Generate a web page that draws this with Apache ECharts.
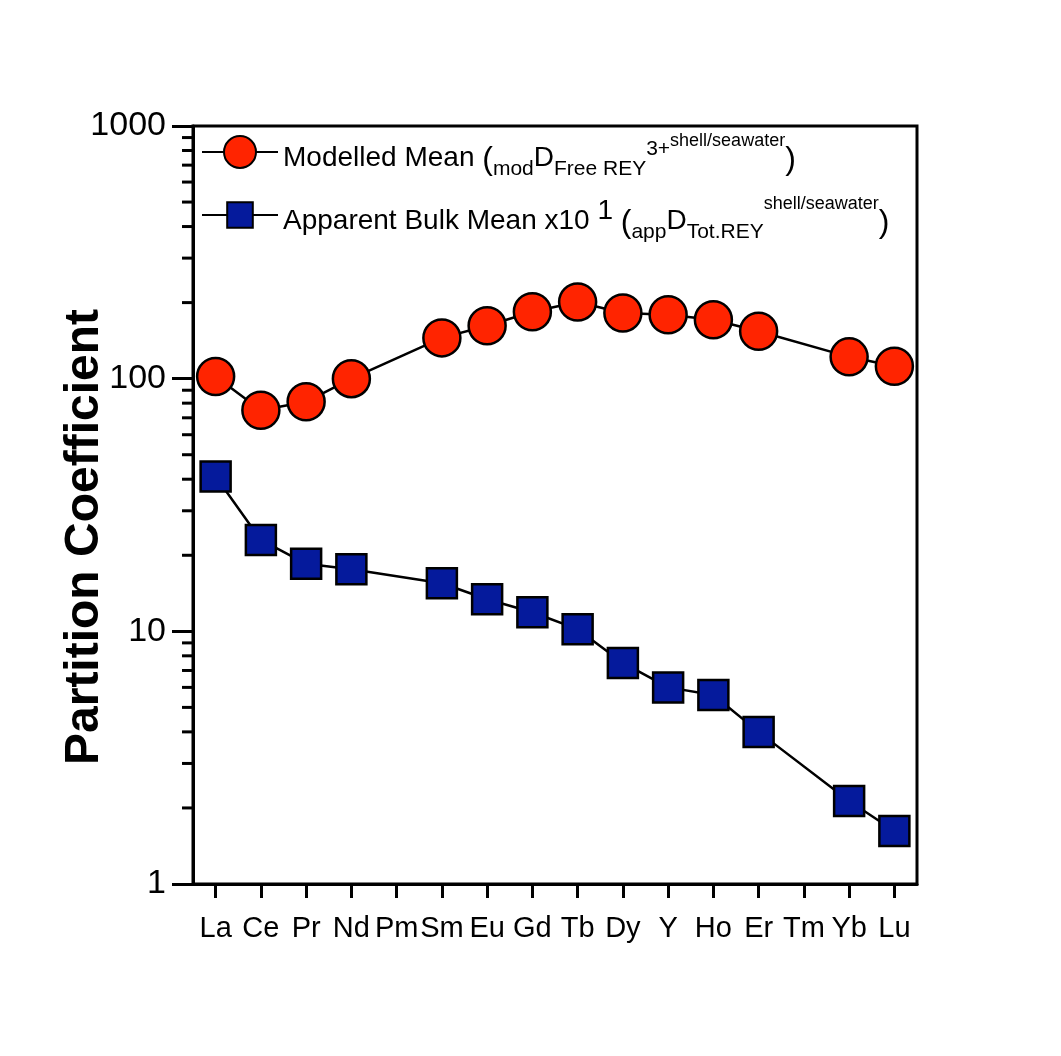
<!DOCTYPE html>
<html>
<head>
<meta charset="utf-8">
<script src="https://cdn.jsdelivr.net/npm/echarts@6/dist/echarts.min.js"></script>
<style>
  html, body { margin: 0; padding: 0; background: #ffffff; }
  #chart { width: 1061px; height: 1056px; }
</style>
</head>
<body>
<div id="chart"></div>
<script>
var elements = ["La", "Ce", "Pr", "Nd", "Pm", "Sm", "Eu", "Gd", "Tb", "Dy", "Y", "Ho", "Er", "Tm", "Yb", "Lu"];
var modelledMean = [102, 75, 81, 100, null, 145, 162, 184, 201, 182, 179, 171, 154, null, 122, 112];
var bulkMean = [41, 23, 18.5, 17.6, null, 15.5, 13.4, 11.9, 10.2, 7.5, 6.0, 5.6, 4.0, null, 2.13, 1.62];
var yTicks = [1, 10, 100, 1000];

var chartDom = document.getElementById("chart");
var myChart = echarts.init(chartDom);

var ff = "Liberation Sans";
var rich = {
  b: { fontSize: 28, fontFamily: ff, color: "#000", lineHeight: 56, verticalAlign: "bottom", padding: [0, 0, 8, 0] },
  sub: { fontSize: 21, fontFamily: ff, color: "#000", lineHeight: 56, verticalAlign: "bottom", padding: [0, 0, 0, 0] },
  sup: { fontSize: 21, fontFamily: ff, color: "#000", lineHeight: 56, verticalAlign: "bottom", padding: [0, 0, 20, 0] },
  sup2: { fontSize: 18, fontFamily: ff, color: "#000", lineHeight: 56, verticalAlign: "bottom", padding: [0, 0, 30, 0] },
  exp: { fontSize: 28, fontFamily: ff, color: "#000", lineHeight: 56, verticalAlign: "bottom", padding: [0, 0, 18, 0] },
  par: { fontSize: 32, fontFamily: ff, color: "#000", lineHeight: 56, verticalAlign: "bottom", padding: [0, 0, 4, 0] }
};

var legendBase = {
  left: 196,
  orient: "vertical",
  itemWidth: 76,
  itemTextGap: 9,
  textStyle: { rich: rich }
};

var option = {
  backgroundColor: "#ffffff",
  animation: false,
  grid: {
    left: 193,
    right: 144,
    top: 126,
    bottom: 172,
    show: true,
    borderColor: "#000",
    borderWidth: 3,
    backgroundColor: "transparent"
  },
  legend: [
    Object.assign({}, legendBase, {
      top: 127,
      itemHeight: 40,
      data: ["Modelled Mean"],
      formatter: function () {
        return "{b|Modelled Mean }{par|(}{sub|mod}{b|D}{sub|Free REY}{sup|3+}{sup2|shell/seawater}{par|)}";
      }
    }),
    Object.assign({}, legendBase, {
      top: 190,
      itemHeight: 32,
      data: ["Apparent Bulk Mean"],
      formatter: function () {
        return "{b|Apparent Bulk Mean x10}{exp| 1 }{par|(}{sub|app}{b|D}{sub|Tot.REY}{sup2|shell/seawater}{par|)}";
      }
    })
  ],
  xAxis: {
    type: "category",
    data: elements,
    boundaryGap: true,
    axisLine: { show: true, lineStyle: { color: "#000", width: 3 } },
    axisTick: { show: true, alignWithLabel: true, interval: 0, length: 14, lineStyle: { color: "#000", width: 3 } },
    axisLabel: { interval: 0, color: "#000", fontSize: 29, fontFamily: ff, margin: 30 },
    splitLine: { show: false }
  },
  yAxis: {
    type: "log",
    logBase: 10,
    min: 1,
    max: 1000,
    name: "Partition Coefficient",
    nameLocation: "middle",
    nameGap: 84,
    nameMoveOverlap: false,
    nameTextStyle: { color: "#000", fontSize: 48, fontWeight: "bold", fontFamily: ff, padding: [0, 64, 0, 0] },
    axisLine: { show: true, lineStyle: { color: "#000", width: 3 } },
    axisTick: { show: true, length: 21, lineStyle: { color: "#000", width: 3 } },
    axisLabel: {
      color: "#000", fontSize: 34, fontFamily: ff, margin: 27,
      formatter: function (v) { return yTicks.indexOf(Math.round(v)) >= 0 ? String(Math.round(v)) : ""; }
    },
    splitLine: { show: false }
  },
  series: [
    {
      name: "Modelled Mean",
      type: "line",
      data: modelledMean,
      connectNulls: true,
      symbol: "circle",
      symbolSize: 37,
      lineStyle: { color: "#000", width: 2.5 },
      itemStyle: { color: "#ff2400", borderColor: "#000", borderWidth: 2.5 },
      z: 3
    },
    {
      name: "Apparent Bulk Mean",
      type: "line",
      data: bulkMean,
      connectNulls: true,
      symbol: "rect",
      symbolSize: 30,
      lineStyle: { color: "#000", width: 2.5 },
      itemStyle: { color: "#051a9c", borderColor: "#000", borderWidth: 2.5 },
      z: 3
    }
  ]
};
myChart.setOption(option);

// minor log ticks (2..9 per decade) placed through the axis scale
var minorLines = [];
var x0 = myChart.convertToPixel({ xAxisIndex: 0 }, 0) - 22.6;
for (var d = 1; d < 1000; d *= 10) {
  for (var k = 2; k <= 9; k++) {
    var py = myChart.convertToPixel({ yAxisIndex: 0 }, d * k);
    minorLines.push({
      type: "line",
      shape: { x1: x0 - 11, y1: py, x2: x0, y2: py },
      style: { stroke: "#000", lineWidth: 3 },
      silent: true
    });
  }
}
myChart.setOption({ graphic: minorLines });
</script>
</body>
</html>
